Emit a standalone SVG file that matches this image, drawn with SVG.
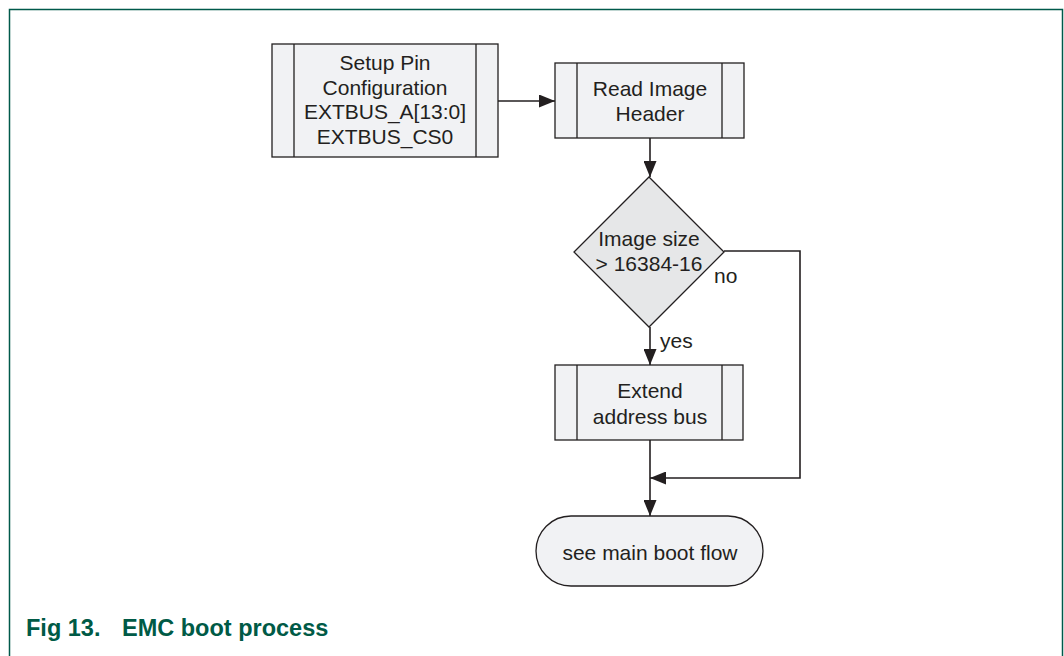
<svg xmlns="http://www.w3.org/2000/svg" width="1064" height="656" viewBox="0 0 1064 656">
<style>
.n{fill:#f1f2f4;stroke:#231f20;stroke-width:1.3}
.d{fill:#e6e7e8;stroke:#231f20;stroke-width:1.3}
.i{fill:none;stroke:#231f20;stroke-width:1.3}
.c{fill:none;stroke:#231f20;stroke-width:1.6}
text{font-family:"Liberation Sans",Arial,sans-serif;font-size:21px;fill:#231f20}
.t{text-anchor:middle}
.cap{font-weight:bold;font-size:23.5px;fill:#005a46}
</style>
<defs>
<marker id="ah" viewBox="0 0 16 13" refX="16" refY="6.5" markerWidth="16" markerHeight="13" markerUnits="userSpaceOnUse" orient="auto">
<path d="M0,0 L16,6.5 L0,13 z" fill="#231f20"/>
</marker>
</defs>
<rect width="1064" height="656" fill="#fff"/>
<path d="M9.5,656 V9.5 H1062.5 V656" fill="none" stroke="#00594a" stroke-width="1.5"/>
<g id="connectors">
<path class="c" d="M498,101 H555" marker-end="url(#ah)"/>
<path class="c" d="M650,138 V177" marker-end="url(#ah)"/>
<path class="c" d="M650,327 V365" marker-end="url(#ah)"/>
<path class="c" d="M724,251 H800 V478 H650" marker-end="url(#ah)"/>
<path class="c" d="M650,440 V516" marker-end="url(#ah)"/>
</g>
<g id="setup">
<rect class="n" x="272" y="44" width="226" height="113"/>
<path class="i" d="M294,44 V157 M476,44 V157"/>
<text class="t" x="385" y="70">Setup Pin</text>
<text class="t" x="385" y="95">Configuration</text>
<text class="t" x="385" y="119">EXTBUS_A[13:0]</text>
<text class="t" x="385" y="144">EXTBUS_CS0</text>
</g>
<g id="read">
<rect class="n" x="555" y="63" width="189" height="75"/>
<path class="i" d="M577,63 V138 M722,63 V138"/>
<text class="t" x="650" y="95.5">Read Image</text>
<text class="t" x="650" y="120.5">Header</text>
</g>
<g id="decision">
<path class="d" d="M649,177 L724,252 L649,327 L574,252 z"/>
<text class="t" x="649" y="245.5">Image size</text>
<text class="t" x="649" y="270.5">&gt; 16384-16</text>
</g>
<g id="labels">
<text x="714" y="283">no</text>
<text x="660" y="348">yes</text>
</g>
<g id="extend">
<rect class="n" x="555" y="365" width="188" height="75"/>
<path class="i" d="M577,365 V440 M722,365 V440"/>
<text class="t" x="650" y="397.5">Extend</text>
<text class="t" x="650" y="423.5">address bus</text>
</g>
<g id="end">
<rect class="n" x="536" y="516" width="227" height="70" rx="35" ry="35"/>
<text class="t" x="650" y="560">see main boot flow</text>
</g>
<text class="cap" x="26" y="636">Fig 13.</text>
<text class="cap" x="122" y="636">EMC boot process</text>
</svg>
